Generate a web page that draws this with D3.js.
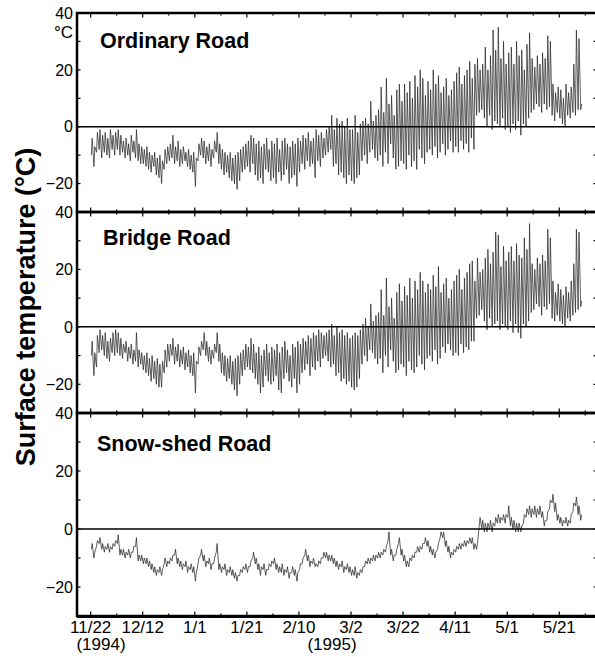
<!DOCTYPE html>
<html>
<head>
<meta charset="utf-8">
<script src="https://cdn.jsdelivr.net/npm/d3@7"></script>
<style>
  body { margin: 0; background: #fff; }
  svg text { font-family: "Liberation Sans", Arial, Helvetica, sans-serif; fill: #000; }
</style>
</head>
<body>
<div id="chart"></div>
<script>
// Daily surface temperature (deg C), one value per day from 11/22/1994
var startDate = "1994-11-22";

// Ordinary road
var ordinaryHi = [
  -4, -7, -2, -1, -3, -2, -4, -1, -3, -2,
  -1, -3, -5, -4, -6, -3, -5, -1, -6, -7,
  -8, -7, -9, -10, -9, -11, -10, -12, -8, -7,
  -6, -3, -7, -5, -8, -7, -9, -8, -10, -9,
  -11, -6, -4, -5, -7, -6, -8, -5, -2, -6,
  -8, -9, -10, -9, -11, -10, -9, -8, -7, -6,
  -5, -3, -4, -6, -5, -7, -6, -4, -8, -5,
  -6, -4, -8, -5, -4, -6, -7, -5, -6, -4,
  -5, -3, -4, -2, -5, -4, -1, -3, -2, -4,
  -1, 0, 4, -1, 3, 1, 2, 0, 3, -1,
  -1, 4, -2, 1, 2, 3, 1, 9, 2, 4,
  6, 14, 5, 17, 8, 11, 4, 13, 15, 9,
  15, 12, 16, 10, 18, 14, 20, 17, 11, 16,
  13, 20, 15, 18, 12, 14, 17, 11, 13, 16,
  19, 21, 15, 18, 20, 23, 17, 22, 24, 20,
  22, 28, 20, 25, 34, 27, 35, 24, 30, 22,
  26, 28, 22, 30, 25, 27, 20, 29, 33, 24,
  21, 25, 22, 26, 24, 32, 30, 15, 12, 14,
  13, 10, 15, 12, 14, 22, 34, 31, 8
];
var ordinaryLo = [
  -10, -14, -9, -8, -11, -9, -10, -11, -8, -10,
  -8, -10, -9, -11, -10, -12, -9, -11, -12, -13,
  -13, -14, -15, -16, -14, -17, -18, -20, -15, -13,
  -12, -11, -13, -12, -14, -13, -12, -14, -15, -16,
  -21, -12, -10, -11, -13, -12, -14, -11, -9, -13,
  -15, -17, -16, -18, -19, -20, -22, -19, -16, -15,
  -14, -16, -13, -17, -19, -18, -20, -15, -16, -19,
  -18, -20, -16, -19, -17, -15, -20, -18, -17, -21,
  -16, -13, -15, -12, -14, -13, -18, -12, -14, -11,
  -10, -9, -8, -14, -13, -17, -16, -18, -20, -17,
  -19, -20, -18, -17, -12, -10, -13, -9, -8, -11,
  -12, -10, -14, -9, -13, -6, -11, -15, -14, -12,
  -13, -15, -10, -14, -12, -15, -8, -11, -13, -9,
  -8, -10, -7, -11, -9, -6, -10, -8, -5, -9,
  -7, -9, -5, -8, -6, -9, -4, -8, 4, 5,
  6, 3, 0, 4, -1, 2, 1, 0, 3, -1,
  0, -2, 1, -1, 2, -3, 1, 0, 3, 5,
  6, 8, 7, 5, 8, 6, 7, 4, 2, 5,
  3, 1, 0, 4, 3, 5, 4, 6, 6
];

// Bridge road
var bridgeHi = [
  -5, -9, -3, -1, -3, -2, -5, -4, -2, -1,
  -2, -4, -6, -5, -7, -6, -8, -2, -8, -9,
  -10, -9, -11, -10, -12, -11, -13, -12, -8, -6,
  -6, -4, -7, -6, -8, -7, -9, -8, -10, -9,
  -12, -7, -5, -2, -5, -7, -8, -6, -2, -6,
  -9, -10, -11, -10, -12, -11, -10, -9, -8, -6,
  -7, -4, -6, -9, -7, -10, -8, -6, -9, -7,
  -8, -6, -9, -7, -5, -8, -10, -6, -7, -5,
  -6, -4, -5, -3, -4, -2, -3, -1, -2, -3,
  -2, -1, 1, -3, 0, -2, -1, -3, -2, -4,
  -3, -2, -3, -1, 1, 3, 0, 8, 2, 4,
  5, 13, 4, 17, 7, 10, 3, 12, 15, 9,
  14, 11, 17, 10, 16, 13, 19, 16, 12, 15,
  13, 18, 14, 21, 12, 15, 17, 10, 13, 16,
  18, 20, 13, 17, 19, 22, 23, 16, 24, 19,
  20, 24, 27, 22, 26, 33, 32, 21, 28, 23,
  26, 28, 23, 29, 25, 24, 31, 27, 36, 22,
  20, 24, 22, 25, 23, 34, 31, 16, 12, 15,
  13, 11, 14, 12, 16, 22, 34, 33, 9
];
var bridgeLo = [
  -10, -17, -14, -9, -8, -10, -11, -12, -9, -10,
  -9, -10, -11, -9, -12, -11, -13, -12, -14, -13,
  -15, -16, -17, -19, -18, -20, -21, -21, -16, -14,
  -12, -10, -13, -12, -14, -13, -15, -14, -16, -17,
  -23, -13, -10, -8, -10, -12, -13, -11, -9, -12,
  -16, -17, -19, -18, -20, -22, -24, -20, -17, -15,
  -14, -15, -16, -18, -20, -23, -21, -17, -19, -20,
  -19, -17, -22, -23, -18, -16, -19, -21, -18, -23,
  -20, -16, -15, -13, -17, -14, -15, -12, -14, -11,
  -10, -12, -14, -13, -17, -16, -19, -18, -20, -19,
  -21, -22, -21, -18, -13, -10, -12, -8, -9, -11,
  -13, -11, -16, -10, -14, -8, -12, -16, -15, -13,
  -14, -17, -12, -15, -16, -14, -10, -13, -15, -11,
  -10, -12, -8, -13, -11, -7, -9, -6, -8, -10,
  -9, -10, -6, -9, -7, -8, -5, -5, 3, 4,
  6, 2, -1, 3, 0, 1, 2, -1, 1, 0,
  -1, 2, -2, 1, -2, -4, 1, 0, 2, 5,
  6, 8, 7, 4, 7, 6, 8, 3, 2, 4,
  2, 1, 0, 3, 2, 4, 5, 6, 7
];

// Snow-shed road
var snowHi = [
  -5, -8, -4, -3, -5, -6, -5, -6, -5, -4,
  -2, -7, -7, -8, -7, -8, -6, -3, -9, -9,
  -10, -10, -11, -12, -13, -14, -13, -14, -10, -11,
  -10, -9, -7, -10, -11, -12, -11, -13, -12, -13,
  -15, -10, -7, -9, -11, -10, -12, -10, -5, -12,
  -13, -12, -14, -13, -14, -15, -16, -14, -13, -12,
  -13, -11, -8, -10, -12, -13, -12, -14, -12, -11,
  -10, -12, -13, -12, -14, -13, -15, -13, -14, -15,
  -12, -10, -7, -9, -11, -10, -12, -11, -10, -8,
  -8, -9, -9, -10, -11, -12, -11, -13, -12, -13,
  -14, -13, -15, -14, -13, -11, -10, -10, -9, -9,
  -8, -8, -7, -6, -1, -7, -9, -7, -3, -7,
  -9, -11, -10, -9, -8, -6, -6, -5, -3, -4,
  -6, -7, -8, -5, -1, -1, -4, -6, -8, -7,
  -6, -5, -5, -4, -4, -3, -3, -5, -5, 4,
  3, 2, 2, 3, 2, 4, 5, 4, 5, 5,
  8, 4, 3, 2, 2, 1, 5, 7, 8, 7,
  8, 7, 8, 6, 3, 6, 10, 12, 9, 5,
  4, 3, 4, 3, 5, 9, 11, 8, 5
];
var snowLo = [
  -7, -10, -6, -5, -7, -8, -7, -8, -7, -6,
  -5, -9, -9, -10, -9, -10, -8, -6, -11, -11,
  -12, -12, -13, -14, -15, -16, -15, -16, -12, -13,
  -12, -11, -9, -12, -13, -14, -13, -15, -14, -15,
  -18, -12, -9, -11, -13, -12, -14, -12, -8, -14,
  -15, -14, -16, -15, -16, -17, -18, -16, -15, -14,
  -15, -13, -10, -12, -14, -16, -14, -16, -14, -13,
  -12, -14, -15, -15, -16, -15, -17, -15, -16, -18,
  -14, -12, -9, -11, -13, -12, -13, -13, -12, -10,
  -10, -11, -11, -12, -13, -14, -13, -15, -14, -15,
  -16, -16, -17, -16, -15, -13, -12, -12, -11, -11,
  -10, -10, -9, -8, -4, -9, -11, -9, -5, -9,
  -11, -13, -13, -11, -10, -8, -8, -7, -5, -6,
  -8, -9, -10, -7, -3, -3, -6, -8, -10, -9,
  -8, -7, -7, -6, -6, -5, -5, -7, -7, 1,
  0, -1, -1, 0, -1, 1, 2, 2, 3, 2,
  4, 1, 0, -1, -1, -1, 2, 4, 5, 4,
  5, 4, 5, 4, 1, 3, 7, 9, 6, 3,
  2, 1, 2, 1, 2, 6, 8, 5, 3
];

var panelNames = ["Ordinary Road", "Bridge Road", "Snow-shed Road"];
var tickDates = ["1994-11-22", "1994-12-12", "1995-01-01", "1995-01-21", "1995-02-10",
                 "1995-03-02", "1995-03-22", "1995-04-11", "1995-05-01", "1995-05-21"];
var tickLabels = ["11/22", "12/12", "1/1", "1/21", "2/10", "3/2", "3/22", "4/11", "5/1", "5/21"];
var yLabels = [40, 20, 0, -20];
var yMinor = [30, 20, 10, 0, -10, -20];

// layout
var width = 595, height = 657;
var left = 77, right = 597;
var panels = [
  { top: 13,  bottom: 212, hi: ordinaryHi, lo: ordinaryLo, titleX: 100, titleY: 48 },
  { top: 212, bottom: 413, hi: bridgeHi,   lo: bridgeLo,   titleX: 103, titleY: 245 },
  { top: 413, bottom: 616, hi: snowHi,     lo: snowLo,     titleX: 97,  titleY: 451 }
];

var parse = d3.timeParse("%Y-%m-%d");
var start = parse(startDate);
var majors = tickDates.map(parse);
var minors = majors.map(d => d3.timeDay.offset(d, 10));

var x = d3.scaleTime()
    .domain([new Date(1994, 10, 16, 18), new Date(1995, 5, 4, 12)])
    .range([left, right]);

var svg = d3.select("#chart")
    .append("svg")
    .attr("width", width)
    .attr("height", height);

function series(hi, lo) {
  var pts = [];
  hi.forEach((h, i) => {
    var day = d3.timeDay.offset(start, i);
    pts.push({ t: d3.timeHour.offset(day, 6), v: lo[i] });
    pts.push({ t: d3.timeHour.offset(day, 14), v: h });
  });
  return pts;
}

panels.forEach((p, k) => {
  var y = d3.scaleLinear().domain([-30, 40]).range([p.bottom, p.top]);
  var g = svg.append("g");

  // data trace
  var line = d3.line().x(d => x(d.t)).y(d => y(d.v));
  g.append("path")
    .datum(series(p.hi, p.lo))
    .attr("d", line)
    .attr("fill", "none")
    .attr("stroke", "#2a2a2a")
    .attr("stroke-width", 0.75)
    .attr("stroke-linejoin", "round");

  // zero line
  g.append("line")
    .attr("x1", left).attr("x2", right)
    .attr("y1", y(0)).attr("y2", y(0))
    .attr("stroke", "#000").attr("stroke-width", 1.5);

  // ticks: top and bottom (inward), left and right (inward)
  var tickG = g.append("g").attr("stroke", "#000").attr("stroke-width", 1.2);
  [[majors, 4.5], [minors, 2.5]].forEach(function (set) {
    set[0].forEach(function (d) {
      tickG.append("line").attr("x1", x(d)).attr("x2", x(d))
        .attr("y1", p.top).attr("y2", p.top + set[1]);
      tickG.append("line").attr("x1", x(d)).attr("x2", x(d))
        .attr("y1", p.bottom).attr("y2", p.bottom - set[1]);
    });
  });
  yMinor.forEach(function (v) {
    tickG.append("line").attr("x1", left).attr("x2", left + 3.5)
      .attr("y1", y(v)).attr("y2", y(v));
    tickG.append("line").attr("x1", right).attr("x2", right - 3.5)
      .attr("y1", y(v)).attr("y2", y(v));
  });

  // frame
  g.append("rect")
    .attr("x", left).attr("y", p.top)
    .attr("width", right - left).attr("height", p.bottom - p.top)
    .attr("fill", "none").attr("stroke", "#000").attr("stroke-width", 2.5);

  // y labels
  g.selectAll(".ylab")
    .data(yLabels)
    .enter()
    .append("text")
    .attr("x", 73)
    .attr("y", d => y(d))
    .attr("dy", "0.36em")
    .attr("text-anchor", "end")
    .style("font-size", "16px")
    .text(d => d < 0 ? "\u2212" + Math.abs(d) : d);

  // panel title
  g.append("text")
    .attr("x", p.titleX).attr("y", p.titleY)
    .style("font-size", "21.5px").style("font-weight", "bold")
    .text(panelNames[k]);
});

// bottom axis line (thicker)
svg.append("line")
  .attr("x1", left).attr("x2", width)
  .attr("y1", 616.5).attr("y2", 616.5)
  .attr("stroke", "#000").attr("stroke-width", 3);

// x tick labels
svg.selectAll(".xlab")
  .data(majors)
  .enter()
  .append("text")
  .attr("x", d => x(d))
  .attr("y", 633)
  .attr("text-anchor", "middle")
  .style("font-size", "17px")
  .text((d, i) => tickLabels[i]);

svg.append("text")
  .attr("x", 101).attr("y", 650)
  .attr("text-anchor", "middle")
  .style("font-size", "17px")
  .text("(1994)");

svg.append("text")
  .attr("x", 332).attr("y", 650)
  .attr("text-anchor", "middle")
  .style("font-size", "17px")
  .text("(1995)");

// unit under the top 40
svg.append("text")
  .attr("x", 73).attr("y", 38)
  .attr("text-anchor", "end")
  .style("font-size", "17px")
  .text("\u00B0C");

// y axis title
svg.append("text")
  .attr("transform", "translate(35,307) rotate(-90)")
  .attr("text-anchor", "middle")
  .style("font-size", "27px")
  .style("font-weight", "bold")
  .text("Surface temperature (\u00B0C)");
</script>
</body>
</html>
